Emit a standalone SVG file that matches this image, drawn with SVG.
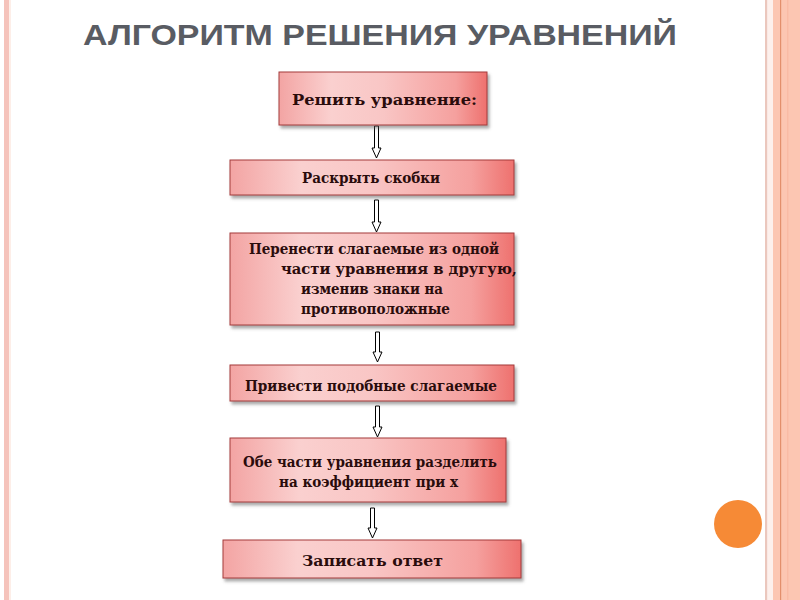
<svg xmlns="http://www.w3.org/2000/svg" width="800" height="600" viewBox="0 0 800 600">
<defs>
<linearGradient id="boxGrad" x1="0" y1="0" x2="1" y2="0">
<stop offset="0" stop-color="#f3a4a3"/>
<stop offset="0.25" stop-color="#fad0cf"/>
<stop offset="0.5" stop-color="#f9c6c5"/>
<stop offset="0.85" stop-color="#f5a09e"/>
<stop offset="1" stop-color="#ee716e"/>
</linearGradient>
<filter id="shadow" x="-5%" y="-10%" width="115%" height="130%">
<feDropShadow dx="2" dy="3" stdDeviation="1.8" flood-color="#555" flood-opacity="0.5"/>
</filter>
</defs>
<style>
.box{fill:url(#boxGrad);stroke:#a33b3b;stroke-width:1;filter:url(#shadow)}
.t{font-family:"DejaVu Serif","Liberation Serif",serif;font-weight:bold;fill:#2a0c0c;font-size:14px}
.arrow{fill:#ffffff;stroke:#000000;stroke-width:1}
.title{font-family:"Liberation Sans",Arial,sans-serif;font-weight:bold;fill:#595c63;font-size:30px}
</style>
<rect width="800" height="600" fill="#ffffff"/>
<!-- borders -->
<rect x="4" y="0" width="5" height="600" fill="#f5c3bb"/>
<rect x="9" y="0" width="2" height="600" fill="#fdeee8"/>
<rect x="765" y="0" width="2.5" height="600" fill="#ebc7bd"/>
<rect x="767.5" y="0" width="5.5" height="600" fill="#fdf0ec"/>
<rect x="773" y="0" width="27" height="600" fill="#fcc6b2"/>
<rect x="780" y="0" width="1.2" height="600" fill="#e38f6c"/>
<rect x="787" y="0" width="1.5" height="600" fill="#f9bba5"/>
<circle cx="738" cy="524" r="24" fill="#f68a36"/>
<text class="title" x="380" y="45" text-anchor="middle" textLength="594" lengthAdjust="spacingAndGlyphs">АЛГОРИТМ РЕШЕНИЯ УРАВНЕНИЙ</text>
<g id="connectors">
<path class="arrow" d="M374.5,126 H378.5 V148 H381 L376.5,158 L372,148 H374.5 Z"/>
<path class="arrow" d="M374.5,200 H378.5 V222 H381 L376.5,232 L372,222 H374.5 Z"/>
<path class="arrow" d="M375.5,332 H379.5 V352 H382 L377.5,362 L373,352 H375.5 Z"/>
<path class="arrow" d="M375.5,406 H379.5 V427 H382 L377.5,437 L373,427 H375.5 Z"/>
<path class="arrow" d="M370.5,508 H374.5 V528 H377 L372.5,538 L368,528 H370.5 Z"/>
</g>
<g id="n1">
<rect class="box" x="279" y="72" width="208" height="53"/>
<text class="t" x="384.5" y="105" text-anchor="middle" font-size="18" textLength="185" lengthAdjust="spacingAndGlyphs">Решить уравнение:</text>
</g>
<g id="n2">
<rect class="box" x="230" y="160" width="284" height="35"/>
<text class="t" x="371" y="183" text-anchor="middle" textLength="138" lengthAdjust="spacingAndGlyphs">Раскрыть скобки</text>
</g>
<g id="n3">
<rect class="box" x="230" y="233" width="284" height="92"/>
<text class="t" x="249" y="254" textLength="250" lengthAdjust="spacingAndGlyphs">Перенести слагаемые из одной</text>
<text class="t" x="281" y="274" textLength="236" lengthAdjust="spacingAndGlyphs">части уравнения в другую,</text>
<text class="t" x="301" y="294" textLength="142" lengthAdjust="spacingAndGlyphs">изменив знаки на</text>
<text class="t" x="301" y="314" textLength="149" lengthAdjust="spacingAndGlyphs">противоположные</text>
</g>
<g id="n4">
<rect class="box" x="230" y="365" width="284" height="36"/>
<text class="t" x="371" y="391" text-anchor="middle" textLength="252" lengthAdjust="spacingAndGlyphs">Привести подобные слагаемые</text>
</g>
<g id="n5">
<rect class="box" x="230" y="438" width="276" height="64"/>
<text class="t" x="370" y="467" text-anchor="middle" textLength="254" lengthAdjust="spacingAndGlyphs">Обе части уравнения разделить</text>
<text class="t" x="368.5" y="487" text-anchor="middle" textLength="179" lengthAdjust="spacingAndGlyphs">на коэффициент при х</text>
</g>
<g id="n6">
<rect class="box" x="223" y="540" width="298" height="38"/>
<text class="t" x="372.5" y="566" text-anchor="middle" font-size="14.5" textLength="141" lengthAdjust="spacingAndGlyphs">Записать ответ</text>
</g>
</svg>
